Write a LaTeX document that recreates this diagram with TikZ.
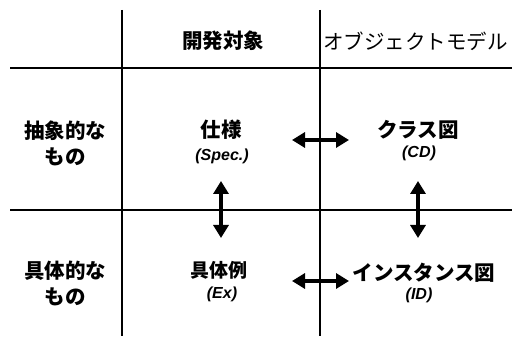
\documentclass[tikz,border=0pt]{standalone}
\usepackage{fontspec}
\usetikzlibrary{arrows.meta}
\newfontfamily\jp{Noto Sans CJK JP}
\newfontfamily\lat{Liberation Sans}
\tikzset{
  grid/.style={line width=2pt, black},
  jplabel/.style={font=\jp\bfseries\fontsize{20.5}{26}\selectfont, inner sep=0pt, align=center},
  jpplain/.style={font=\jp\fontsize{20.5}{26}\selectfont, inner sep=0pt},
  sublabel/.style={font=\lat\bfseries\itshape\fontsize{16}{18}\selectfont, inner sep=0pt},
  dbl/.style={line width=4pt, {Triangle[length=13pt,width=15pt]}-{Triangle[length=13pt,width=15pt]}}
}
\begin{document}
\begin{tikzpicture}[x=1pt,y=-1pt]
\useasboundingbox (0,0) rectangle (517,347);
% grid
\coordinate (v1t) at (122,10); \coordinate (v1b) at (122,336);
\coordinate (v2t) at (320,10); \coordinate (v2b) at (320,336);
\coordinate (h1l) at (10,68); \coordinate (h1r) at (512,68);
\coordinate (h2l) at (10,210); \coordinate (h2r) at (512,210);
\draw[grid] (v1t) -- (v1b);
\draw[grid] (v2t) -- (v2b);
\draw[grid] (h1l) -- (h1r);
\draw[grid] (h2l) -- (h2r);
% headers
\node[jplabel] (dev) at (223,41) {開発対象};
\node[jpplain, anchor=west] (obj) at (323,41) {オブジェクトモデル};
\node[jplabel] (abs) at (65,143) {抽象的な\\もの};
\node[jplabel] (con) at (65,283) {具体的な\\もの};
% cells
\node[jplabel] (spec) at (221,130) {仕様};
\node[sublabel] (specl) at (222,156) {(Spec.)};
\node[jplabel] (cd) at (418,130) {クラス図};
\node[sublabel] (cdl) at (419,153) {(CD)};
\node[jplabel, font=\jp\bfseries\fontsize{19}{22}\selectfont] (ex) at (219,270) {具体例};
\node[sublabel] (exl) at (222,294) {(Ex)};
\node[jplabel] (idn) at (424,273) {インスタンス図};
\node[sublabel] (idl) at (419,295) {(ID)};
% arrows
\coordinate (a1l) at (292,140); \coordinate (a1r) at (349,140);
\coordinate (a2l) at (292,281); \coordinate (a2r) at (349,281);
\coordinate (a3t) at (221,181); \coordinate (a3b) at (221,238);
\coordinate (a4t) at (418,181); \coordinate (a4b) at (418,238);
\draw[dbl] (a1l) -- (a1r);
\draw[dbl] (a2l) -- (a2r);
\draw[dbl] (a3t) -- (a3b);
\draw[dbl] (a4t) -- (a4b);
\end{tikzpicture}
\end{document}
